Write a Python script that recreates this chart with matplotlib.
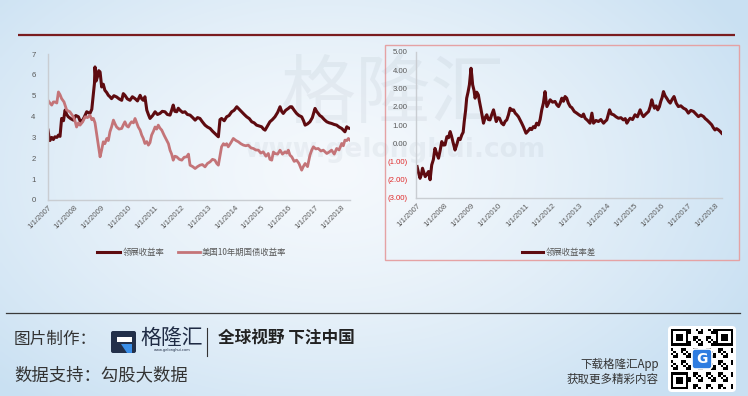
import numpy as np
import matplotlib.pyplot as plt
from matplotlib.patches import Rectangle, FancyBboxPatch, Polygon

plt.rcParams['font.family'] = ['Noto Sans CJK SC', 'DejaVu Sans']

# ---- data (decimal years) ----
link_t = [2007.00, 2007.04, 2007.07, 2007.14, 2007.20, 2007.26, 2007.33, 2007.39, 2007.45,
          2007.51, 2007.58, 2007.64, 2007.70, 2007.76, 2007.85, 2007.95, 2008.04, 2008.14,
          2008.20, 2008.26, 2008.35, 2008.45, 2008.57, 2008.64, 2008.70, 2008.74, 2008.76,
          2008.80, 2008.85, 2008.90, 2008.95, 2009.01, 2009.07, 2009.13, 2009.20, 2009.26,
          2009.32, 2009.38, 2009.47, 2009.57, 2009.66, 2009.76, 2009.82, 2009.88, 2009.97,
          2010.07, 2010.16, 2010.26, 2010.35, 2010.45, 2010.51, 2010.57, 2010.63, 2010.70,
          2010.76, 2010.82, 2010.92, 2011.01, 2011.10, 2011.19, 2011.28, 2011.38, 2011.47,
          2011.57, 2011.63, 2011.69, 2011.75, 2011.82, 2011.88, 2011.94, 2012.04, 2012.13,
          2012.22, 2012.32, 2012.42, 2012.51, 2012.60, 2012.69, 2012.78, 2012.88, 2012.97,
          2013.07, 2013.16, 2013.25, 2013.32, 2013.38, 2013.44, 2013.50, 2013.60, 2013.69,
          2013.78, 2013.88, 2013.97, 2014.07, 2014.16, 2014.25, 2014.35, 2014.44, 2014.54,
          2014.63, 2014.72, 2014.81, 2014.90, 2015.00, 2015.07, 2015.13, 2015.22, 2015.31,
          2015.40, 2015.50, 2015.60, 2015.69, 2015.75, 2015.81, 2015.90, 2016.00, 2016.07,
          2016.13, 2016.22, 2016.31, 2016.40, 2016.50, 2016.57, 2016.63, 2016.72, 2016.81,
          2016.90, 2017.00, 2017.06, 2017.12, 2017.18, 2017.25, 2017.35, 2017.44, 2017.53,
          2017.62, 2017.72, 2017.81, 2017.90, 2018.00, 2018.06, 2018.12, 2018.16, 2018.19,
          2018.25, 2018.31]
link_yield = [3.35, 3.00, 2.85, 3.00, 2.90, 3.03, 3.00, 3.11, 3.05,
              3.91, 3.80, 4.31, 4.10, 3.99, 3.90, 3.83, 4.05, 3.99,
              3.80, 3.75, 3.95, 4.23, 4.15, 4.35, 5.10, 5.60, 6.38,
              5.70, 5.90, 6.20, 6.14, 5.42, 5.55, 5.26, 5.15, 5.02,
              4.95, 4.86, 5.00, 4.94, 4.85, 4.78, 5.10, 5.02, 4.85,
              4.78, 4.95, 4.86, 4.75, 5.02, 4.85, 4.78, 4.95, 4.31,
              4.10, 3.91, 4.05, 4.23, 4.10, 4.15, 4.25, 4.23, 4.10,
              4.07, 4.30, 4.55, 4.25, 4.23, 4.40, 4.31, 4.20, 4.23,
              4.10, 4.07, 3.95, 3.83, 3.95, 3.91, 3.75, 3.59, 3.50,
              3.43, 3.30, 3.19, 3.10, 3.03, 3.85, 3.91, 3.80, 3.99,
              4.05, 4.23, 4.30, 4.47, 4.35, 4.23, 4.10, 3.99, 3.90,
              3.75, 3.70, 3.59, 3.55, 3.51, 3.40, 3.35, 3.55, 3.75,
              3.85, 3.99, 4.20, 4.47, 4.25, 4.15, 4.30, 4.39, 4.47,
              4.47, 4.30, 4.15, 4.05, 3.99, 3.80, 3.59, 3.65, 3.75,
              3.95, 4.39, 4.25, 4.15, 4.05, 3.99, 3.85, 3.75, 3.70,
              3.67, 3.62, 3.59, 3.50, 3.43, 3.35, 3.27, 3.40, 3.51,
              3.45, 3.43]

ust_t = [2007.00, 2007.07, 2007.14, 2007.20, 2007.26, 2007.33, 2007.39, 2007.45, 2007.51,
         2007.60, 2007.70, 2007.82, 2007.95, 2008.01, 2008.07, 2008.14, 2008.20, 2008.30,
         2008.39, 2008.48, 2008.57, 2008.64, 2008.70, 2008.76, 2008.82, 2008.88, 2008.95,
         2009.01, 2009.07, 2009.13, 2009.20, 2009.26, 2009.32, 2009.38, 2009.45, 2009.51,
         2009.57, 2009.66, 2009.76, 2009.82, 2009.88, 2009.95, 2010.01, 2010.07, 2010.13,
         2010.20, 2010.26, 2010.32, 2010.38, 2010.45, 2010.51, 2010.57, 2010.63, 2010.70,
         2010.76, 2010.82, 2010.88, 2010.95, 2011.01, 2011.07, 2011.13, 2011.19, 2011.26,
         2011.35, 2011.44, 2011.51, 2011.57, 2011.63, 2011.69, 2011.75, 2011.82, 2011.92,
         2012.01, 2012.10, 2012.19, 2012.26, 2012.32, 2012.42, 2012.51, 2012.60, 2012.69,
         2012.78, 2012.88, 2012.97, 2013.07, 2013.16, 2013.25, 2013.32, 2013.38, 2013.44,
         2013.50, 2013.57, 2013.63, 2013.69, 2013.75, 2013.85, 2013.94, 2014.04, 2014.13,
         2014.22, 2014.32, 2014.41, 2014.50, 2014.60, 2014.69, 2014.78, 2014.88, 2014.97,
         2015.06, 2015.16, 2015.25, 2015.31, 2015.38, 2015.44, 2015.50, 2015.60, 2015.69,
         2015.78, 2015.88, 2015.94, 2016.00, 2016.06, 2016.13, 2016.22, 2016.31, 2016.40,
         2016.50, 2016.56, 2016.63, 2016.72, 2016.81, 2016.88, 2016.94, 2017.03, 2017.12,
         2017.22, 2017.31, 2017.38, 2017.44, 2017.53, 2017.62, 2017.72, 2017.81, 2017.90,
         2018.00, 2018.06, 2018.12, 2018.19, 2018.25, 2018.31]
ust_yield = [4.78, 4.65, 4.55, 4.70, 4.70, 4.65, 5.18, 5.05, 4.86,
             4.70, 4.31, 4.23, 3.99, 3.80, 3.50, 3.70, 3.59, 3.75,
             3.99, 3.95, 4.07, 3.85, 3.91, 3.70, 3.19, 2.70, 2.07,
             2.40, 2.79, 2.70, 2.95, 2.85, 3.27, 3.50, 3.83, 3.65,
             3.50, 3.40, 3.43, 3.60, 3.75, 3.55, 3.50, 3.65, 3.75,
             3.70, 3.91, 3.70, 3.50, 3.35, 3.11, 2.95, 2.71, 2.80,
             2.63, 2.75, 3.11, 3.30, 3.50, 3.40, 3.59, 3.45, 3.35,
             3.10, 2.87, 2.70, 2.39, 2.20, 1.91, 2.10, 2.07, 1.95,
             1.91, 2.05, 2.07, 2.20, 1.67, 1.60, 1.51, 1.60, 1.67,
             1.70, 1.59, 1.75, 1.83, 1.95, 1.91, 1.75, 1.67, 2.10,
             2.55, 2.70, 2.63, 2.70, 2.55, 2.75, 2.95, 2.85, 2.79,
             2.70, 2.63, 2.60, 2.63, 2.50, 2.47, 2.40, 2.39, 2.25,
             2.31, 2.10, 2.23, 1.95, 1.91, 2.30, 2.23, 2.20, 2.39,
             2.20, 2.31, 2.25, 2.39, 2.15, 2.07, 1.85, 1.91, 1.75,
             1.43, 1.60, 1.75, 1.60, 2.15, 2.40, 2.55, 2.45, 2.47,
             2.35, 2.39, 2.30, 2.23, 2.30, 2.39, 2.20, 2.47, 2.40,
             2.71, 2.60, 2.87, 2.85, 2.95, 2.87]

spread_t = [2007.00, 2007.05, 2007.11, 2007.16, 2007.20, 2007.25, 2007.30, 2007.36, 2007.42,
            2007.48, 2007.54, 2007.60, 2007.66, 2007.72, 2007.79, 2007.85, 2007.91, 2007.97,
            2008.03, 2008.10, 2008.16, 2008.22, 2008.27, 2008.32, 2008.40, 2008.46, 2008.53,
            2008.59, 2008.65, 2008.70, 2008.74, 2008.79, 2008.83, 2008.88, 2008.93, 2008.99,
            2009.02, 2009.05, 2009.10, 2009.14, 2009.20, 2009.26, 2009.30, 2009.35, 2009.40,
            2009.45, 2009.51, 2009.57, 2009.63, 2009.69, 2009.75, 2009.82, 2009.87, 2009.92,
            2009.98, 2010.04, 2010.12, 2010.19, 2010.25, 2010.31, 2010.37, 2010.43, 2010.50,
            2010.56, 2010.62, 2010.68, 2010.74, 2010.80, 2010.86, 2010.92, 2011.02, 2011.11,
            2011.17, 2011.23, 2011.29, 2011.35, 2011.41, 2011.48, 2011.54, 2011.60, 2011.66,
            2011.72, 2011.76, 2011.79, 2011.85, 2011.91, 2012.00, 2012.09, 2012.16, 2012.22,
            2012.28, 2012.34, 2012.40, 2012.46, 2012.52, 2012.58, 2012.65, 2012.71, 2012.80,
            2012.89, 2012.98, 2013.08, 2013.14, 2013.20, 2013.29, 2013.38, 2013.45, 2013.51,
            2013.60, 2013.69, 2013.78, 2013.88, 2013.94, 2014.00, 2014.10, 2014.17, 2014.25,
            2014.34, 2014.43, 2014.52, 2014.61, 2014.68, 2014.74, 2014.80, 2014.86, 2014.95,
            2015.04, 2015.13, 2015.23, 2015.29, 2015.35, 2015.44, 2015.54, 2015.60, 2015.66,
            2015.71, 2015.76, 2015.82, 2015.88, 2015.94, 2015.99, 2016.04, 2016.09, 2016.15,
            2016.21, 2016.28, 2016.34, 2016.41, 2016.48, 2016.56, 2016.64, 2016.73, 2016.83,
            2016.92, 2017.01, 2017.10, 2017.20, 2017.29, 2017.38, 2017.47, 2017.57, 2017.63,
            2017.69, 2017.78, 2017.87, 2017.93, 2017.99, 2018.05, 2018.12, 2018.18, 2018.24]
spread = [-1.28, -1.60, -1.92, -1.70, -1.37, -1.60, -1.83, -1.70, -1.55,
          -2.00, -1.19, -0.90, -0.28, -0.55, -0.82, -0.40, 0.09, -0.10,
          -0.09, 0.36, 0.30, 0.64, 0.40, 0.09, -0.37, -0.10, 0.27,
          0.20, 0.46, 0.60, 1.19, 1.80, 2.47, 2.80, 3.20, 4.11,
          3.70, 3.20, 2.90, 2.47, 2.80, 2.65, 2.30, 1.92, 1.50,
          1.10, 1.40, 1.56, 1.30, 1.28, 1.55, 1.83, 1.50, 1.19,
          1.40, 1.37, 1.10, 1.01, 1.20, 1.28, 1.55, 1.92, 1.80,
          1.83, 1.65, 1.56, 1.45, 1.28, 1.10, 0.91, 0.55, 0.70,
          0.82, 0.75, 0.91, 0.85, 1.10, 1.00, 1.30, 1.83, 2.20,
          2.83, 2.30, 2.01, 2.20, 2.38, 2.25, 2.29, 2.10, 2.01,
          2.20, 2.47, 2.30, 2.56, 2.47, 2.20, 2.01, 1.95, 1.74,
          1.65, 1.55, 1.46, 1.60, 1.37, 1.25, 1.10, 1.65, 1.10,
          1.25, 1.19, 1.30, 1.10, 1.20, 1.28, 1.83, 1.60, 1.56,
          1.45, 1.37, 1.40, 1.28, 1.35, 1.10, 1.25, 1.37, 1.30,
          1.56, 1.45, 1.83, 1.60, 1.46, 1.60, 1.74, 2.00, 2.38,
          2.10, 1.92, 2.05, 1.83, 2.00, 2.29, 2.50, 2.83, 2.60,
          2.47, 2.30, 2.20, 2.40, 2.56, 2.20, 2.01, 2.05, 1.92,
          1.85, 1.65, 1.80, 1.74, 1.60, 1.46, 1.55, 1.46, 1.35,
          1.28, 1.15, 1.01, 0.85, 0.73, 0.80, 0.73, 0.65, 0.55]

years = list(range(2007, 2019))
tick_labels = ['1/1/%d' % y for y in years]

dark = '#5e0b10'
light = '#c47478'
gray = '#595959'

W, H = 748, 396
fig = plt.figure(figsize=(W / 100, H / 100), dpi=100)

# background / decoration layer in pixel coordinates
bg = fig.add_axes([0, 0, 1, 1])
yy, xx = np.mgrid[0:H:3, 0:W:3]
d = np.clip(np.sqrt(((xx - 330) / 470) ** 2 + ((yy - 170) / 300) ** 2), 0, 1)
edge = np.array([0.79, 0.88, 0.95])
center = np.array([0.96, 0.975, 0.99])
img = center + (edge - center) * (d[..., None] ** 1.4)
bg.imshow(img, extent=[0, W, H, 0], aspect='auto', interpolation='bilinear', zorder=0)
bg.set_xlim(0, W)
bg.set_ylim(H, 0)
bg.axis('off')

# watermark
bg.text(393, 95, '格隆汇', fontsize=54, color='#8b98a6', alpha=0.11, ha='center', va='center')
bg.text(395, 150, 'www.gelonghui.com', fontsize=19, fontweight='bold', color='#8b98a6',
        alpha=0.10, ha='center', va='center', family='DejaVu Sans')

# top rule
bg.plot([18, 735], [35, 35], color='#7a1c1f', lw=1.6, solid_capstyle='butt')

# right chart frame
bg.add_patch(Rectangle((385, 45), 354, 215, fill=False, edgecolor='#e5a2a4', lw=1.0))


def px_axes(x0, y0, x1, y1):
    return fig.add_axes([x0 / W, 1 - y1 / H, (x1 - x0) / W, (y1 - y0) / H])


def style(ax):
    ax.set_facecolor('none')
    for s in ['top', 'right']:
        ax.spines[s].set_visible(False)
    for s in ['left', 'bottom']:
        ax.spines[s].set_color('#c9cdd2')
        ax.spines[s].set_linewidth(1.0)
    ax.tick_params(length=0, labelsize=5.6, colors=gray)
    ax.set_xticks(years)
    ax.set_xticklabels(tick_labels, rotation=45, ha='right', rotation_mode='anchor',
                       fontsize=5.6, family='Liberation Sans')
    for lab in ax.get_yticklabels():
        lab.set_family('Liberation Sans')


# left chart
ax1 = px_axes(48, 54, 350, 200)
ax1.plot(link_t, link_yield, color=dark, lw=2.2)
ax1.plot(ust_t, ust_yield, color=light, lw=2.0)
ax1.set_xlim(2007, 2018.31)
ax1.set_ylim(0, 7)
ax1.set_yticks(range(0, 8))
style(ax1)
ax1.tick_params(axis='y', pad=9)
ax1.tick_params(axis='x', pad=3)

# right chart
ax2 = px_axes(416, 52, 722, 198)
ax2.plot(spread_t, spread, color=dark, lw=2.2)
ax2.set_xlim(2006.96, 2018.25)
ax2.set_ylim(-3, 5)
ax2.set_yticks(range(-3, 6))
ax2.set_yticklabels(['(%.2f)' % -v if v < 0 else '%.2f' % v for v in range(-3, 6)])
style(ax2)
ax2.tick_params(axis='y', pad=6)
ax2.tick_params(axis='x', pad=3)
for lab, v in zip(ax2.get_yticklabels(), range(-3, 6)):
    if v < 0:
        lab.set_color('#e02b2b')

# legends
bg.plot([97, 120], [252, 252], color=dark, lw=2.2)
bg.text(123, 252, '领展收益率', fontsize=6, color=gray, va='center')
bg.plot([178, 200], [252, 252], color=light, lw=2.0)
bg.text(202, 252, '美国10年期国债收益率', fontsize=6, color=gray, va='center')
bg.plot([522, 543], [252, 252], color=dark, lw=2.2)
bg.text(546, 252, '领展收益率差', fontsize=6, color=gray, va='center')

# footer
bg.plot([6, 740], [313, 313], color='#3a3a3a', lw=0.9)
bg.text(14, 339, '图片制作：', fontsize=12, color='#333333', va='center')
bg.text(14, 375, '数据支持：勾股大数据', fontsize=12.5, color='#333333', va='center')

# logo icon
bg.add_patch(FancyBboxPatch((111, 331), 25, 22, boxstyle='round,pad=0,rounding_size=2',
                            facecolor='#23304a', edgecolor='none'))
bg.add_patch(Rectangle((117, 337), 15, 5, facecolor='white', edgecolor='none'))
bg.add_patch(Polygon([[121, 344], [132, 344], [132, 353], [127, 353]], closed=True,
                     facecolor='#3b8fe8', edgecolor='none'))
bg.text(140, 338, '格隆汇', fontsize=15, color='#1f2b44', va='center')
bg.text(172, 350, 'www.gelonghui.com', fontsize=2.6, color='#1f2b44', ha='center',
        va='center', family='DejaVu Sans')
bg.plot([207, 207], [328, 356], color='#333333', lw=0.8)
bg.text(218, 339, '全球视野 下注中国', fontsize=12, fontweight='bold', color='#222222', va='center')

bg.text(659, 364, '下载格隆汇App', fontsize=8.3, color='#333333', ha='right', va='center')
bg.text(659, 379, '获取更多精彩内容', fontsize=8.3, color='#333333', ha='right', va='center')

# QR code block
bg.add_patch(FancyBboxPatch((668, 326), 68, 66, boxstyle='round,pad=0,rounding_size=4',
                            facecolor='white', edgecolor='none'))
n = 25
ii, jj = np.mgrid[0:n, 0:n]
qr = (((ii * 7 + jj * 13 + ii * jj) % 5) < 2).astype(float)
for (r0, c0) in [(0, 0), (0, n - 7), (n - 7, 0)]:
    qr[r0:r0 + 7, c0:c0 + 7] = 1
    qr[r0 + 1:r0 + 6, c0 + 1:c0 + 6] = 0
    qr[r0 + 2:r0 + 5, c0 + 2:c0 + 5] = 1
bg.imshow(1 - qr, cmap='gray', extent=[671, 733, 389, 329], interpolation='nearest',
          vmin=0, vmax=1, zorder=3)
bg.add_patch(FancyBboxPatch((692, 349), 20, 20, boxstyle='round,pad=0,rounding_size=3',
                            facecolor='#2f7de1', edgecolor='white', lw=1.2, zorder=4))
bg.text(702, 359, 'G', fontsize=10, fontweight='bold', color='white', ha='center',
        va='center', zorder=5, family='DejaVu Sans')
bg.set_xlim(0, W)
bg.set_ylim(H, 0)

fig.savefig('out.png', dpi=100)
